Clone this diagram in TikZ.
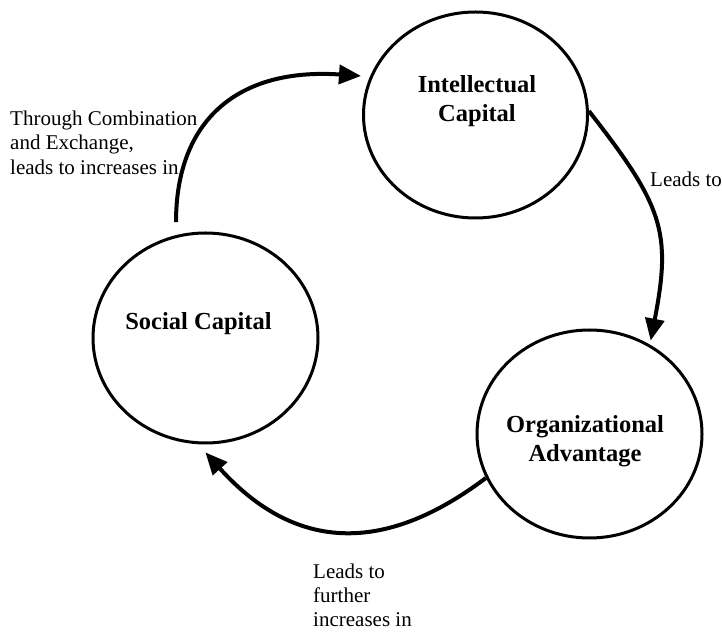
\documentclass[tikz,border=0pt]{standalone}
\usepackage{fontspec}
\setmainfont{Liberation Serif}
\usetikzlibrary{shapes.geometric,arrows.meta}

\begin{document}
\begin{tikzpicture}[x=1pt,y=1pt,
  capital/.style={ellipse, draw, line width=3pt, inner sep=0pt,
    minimum width=224pt, minimum height=206pt},
  title/.style={font=\fontsize{24.5}{29}\selectfont\bfseries, align=center, inner sep=0pt},
  note/.style={font=\fontsize{21}{24.5}\selectfont, align=left, inner sep=0pt, anchor=north west},
  flow/.style={line width=4pt, -{Triangle[length=22pt,width=19pt]}}
]
\fill[white] (0,0) rectangle (722,634);
\useasboundingbox (0,0) rectangle (722,634);

% the three forms of capital
\node[capital] (int) at (475.5,519) {};
\node[capital, minimum width=225pt, minimum height=210pt] (soc) at (205.5,296) {};
\node[capital, minimum width=225pt, minimum height=208pt] (org) at (589.5,200) {};

\node[title] (intT) at ([shift={(1.5,13.6)}]int.center) {Intellectual\\Capital};
\node[title] (socT) at ([shift={(-7,14.5)}]soc.center) {Social Capital};
\node[title] (orgT) at ([shift={(-4.5,-7.7)}]org.center) {Organizational\\Advantage};

% the cycle
\draw[flow, shorten <=13pt, shorten >=9pt]
  (soc.106) .. controls +(0,116) and +(-131,9) .. (int.160);
\draw[flow, shorten >=4pt]
  (int.2) .. controls +(-52:120) and +(79:115) .. (org.56);
\draw[flow, shorten >=11pt]
  (org.203) .. controls +(217:95) and +(-48:170) .. (soc.266);

% edge notes
\node[note] (n1) at (10,523.5) {Through Combination\\and Exchange,\\leads to increases in};
\node[note] (n2) at (650,462) {Leads to};
\node[note, font=\fontsize{21}{24}\selectfont] (n3) at (313,70) {Leads to\\further\\increases in};
\end{tikzpicture}
\end{document}
